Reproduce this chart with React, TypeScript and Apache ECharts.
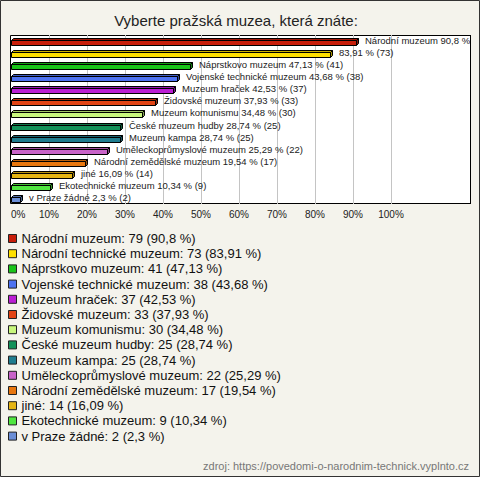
import { useEffect, useRef } from 'react';
import * as echarts from 'echarts';

const categories = [
  'Národní muzeum',
  'Národní technické muzeum',
  'Náprstkovo muzeum',
  'Vojenské technické muzeum',
  'Muzeum hraček',
  'Židovské muzeum',
  'Muzeum komunismu',
  'České muzeum hudby',
  'Muzeum kampa',
  'Uměleckoprůmyslové muzeum',
  'Národní zemědělské muzeum',
  'jiné',
  'Ekotechnické muzeum',
  'v Praze žádné',
];
const barLabelNames = [
  'Národní muzeum',
  '',
  'Náprstkovo muzeum',
  'Vojenské technické muzeum',
  'Muzeum hraček',
  'Židovské muzeum',
  'Muzeum komunismu',
  'České muzeum hudby',
  'Muzeum kampa',
  'Uměleckoprůmyslové muzeum',
  'Národní zemědělské muzeum',
  'jiné',
  'Ekotechnické muzeum',
  'v Praze žádné',
];
const counts = [79, 73, 41, 38, 37, 33, 30, 25, 25, 22, 17, 14, 9, 2];
const percents = [90.8, 83.91, 47.13, 43.68, 42.53, 37.93, 34.48, 28.74, 28.74, 25.29, 19.54, 16.09, 10.34, 2.3];
const colors = [
  '#c81e0a',
  '#ffe000',
  '#19c419',
  '#4d72f0',
  '#bb1fd4',
  '#e24414',
  '#c8f77c',
  '#139159',
  '#1f7d8f',
  '#c863c8',
  '#e8770f',
  '#e5b514',
  '#50e640',
  '#6b8ed6',
];
const titleText = 'Vyberte pražská muzea, která znáte:';
const sourceText = 'zdroj: https://povedomi-o-narodnim-technick.vyplnto.cz';

const FONT = 'Liberation Sans, Arial, sans-serif';
const BG = '#f4f3ec';

const fmt = (v: number) => String(v).replace('.', ',');

function darken(hex: string, f: number) {
  const n = parseInt(hex.slice(1), 16);
  const r = Math.round(((n >> 16) & 255) * f);
  const g = Math.round(((n >> 8) & 255) * f);
  const b = Math.round((n & 255) * f);
  return `rgb(${r},${g},${b})`;
}

export default function App() {
  const ref = useRef<HTMLDivElement>(null);
  useEffect(() => {
    if (!ref.current) return;
    const chart = echarts.init(ref.current, null, { renderer: 'svg' });

    const series = categories.map((name, i) => ({
      type: 'custom',
      name,
      clip: false,
      itemStyle: { color: colors[i] },
      data: [[percents[i], i]],
      renderItem: (params: any, api: any) => {
        const v = api.value(0);
        const idx = api.value(1);
        const p0 = api.coord([0, idx]);
        const p1 = api.coord([v, idx]);
        const x0 = Math.round(p0[0]) + 0.5;
        const x1 = Math.round(p1[0]) + 0.5;
        const c = Math.round(p1[1]);
        const topY = c - 3 + 0.5;
        const frontY = c - 1 + 0.5;
        const botY = c + 4 + 0.5;
        const d = 2;
        const col = colors[i];
        const stroke = { stroke: '#000', lineWidth: 1 };
        const label = (barLabelNames[i] ? barLabelNames[i] + ' ' : '') + `${fmt(percents[i])} % (${counts[i]})`;
        return {
          type: 'group',
          children: [
            {
              type: 'polygon',
              shape: { points: [[x0, frontY], [x0 + d, topY], [x1 + d, topY], [x1, frontY]] },
              style: { fill: darken(col, 0.8), ...stroke },
            },
            {
              type: 'polygon',
              shape: { points: [[x1, frontY], [x1 + d, topY], [x1 + d, botY - d], [x1, botY]] },
              style: { fill: darken(col, 0.65), ...stroke },
            },
            {
              type: 'rect',
              shape: { x: x0, y: frontY, width: x1 - x0, height: botY - frontY },
              style: { fill: col, ...stroke },
            },
            {
              type: 'text',
              x: Math.round(p1[0]) + 9,
              y: c - 1,
              style: {
                text: label,
                fill: '#222',
                fontSize: 9.5,
                fontFamily: FONT,
                verticalAlign: 'middle',
                align: 'left',
              },
            },
          ],
        };
      },
    }));

    chart.setOption({
      animation: false,
      backgroundColor: BG,
      grid: { left: 11, top: 35, width: 380, height: 169, containLabel: false },
      xAxis: {
        type: 'value',
        min: 0,
        max: 100,
        interval: 10,
        axisLine: { show: false },
        axisTick: { show: false },
        splitLine: { show: true, showMinLine: false, lineStyle: { color: '#c4c4c4', width: 1 } },
        axisLabel: {
          formatter: (v: number) => `${v}%`,
          color: '#222',
          fontSize: 10,
          fontFamily: FONT,
          margin: 5,
          alignMinLabel: 'left',
        },
      },
      yAxis: {
        type: 'category',
        inverse: true,
        data: categories,
        axisLine: { show: false },
        axisTick: { show: false },
        axisLabel: { show: false },
        splitLine: { show: false },
      },
      legend: {
        orient: 'vertical',
        left: 8,
        top: 231,
        padding: 0,
        icon: 'rect',
        itemWidth: 8,
        itemHeight: 8,
        itemGap: 0.2,
        itemStyle: { borderColor: '#222', borderWidth: 1 },
        data: categories,
        selectedMode: false,
        formatter: (name: string) => {
          const i = categories.indexOf(name);
          return `${name}: ${counts[i]} (${fmt(percents[i])} %)`;
        },
        textStyle: { fontSize: 13, fontFamily: FONT, color: '#111', lineHeight: 15, padding: [0, 0, 0, 0] },
      },
      graphic: [
        {
          type: 'rect',
          z: -100,
          shape: { x: 10.5, y: 35.5, width: 460, height: 168 },
          style: { fill: '#fff', stroke: '#000', lineWidth: 1 },
        },
        {
          type: 'rect',
          z: 100,
          shape: { x: 471, y: 30, width: 9, height: 180 },
          style: { fill: BG },
        },
        {
          type: 'line',
          z: 101,
          shape: { x1: 470.5, y1: 35, x2: 470.5, y2: 204 },
          style: { stroke: '#000', lineWidth: 1 },
        },
        {
          type: 'rect',
          z: 102,
          shape: { x: 0.5, y: 0.5, width: 479, height: 476 },
          style: { fill: 'none', stroke: '#333', lineWidth: 1 },
        },
        {
          type: 'text',
          x: 236,
          y: 20,
          style: {
            text: titleText,
            fill: '#222',
            fontSize: 15,
            fontFamily: FONT,
            align: 'center',
            verticalAlign: 'middle',
          },
        },
        {
          type: 'text',
          x: 469,
          y: 466,
          style: {
            text: sourceText,
            fill: '#777',
            fontSize: 11,
            fontFamily: FONT,
            align: 'right',
            verticalAlign: 'middle',
          },
        },
      ],
      series,
    });
    return () => chart.dispose();
  }, []);
  return (
    <div
      ref={ref}
      style={{ position: 'absolute', left: 0, top: 0, width: 480, height: 477 }}
    />
  );
}
